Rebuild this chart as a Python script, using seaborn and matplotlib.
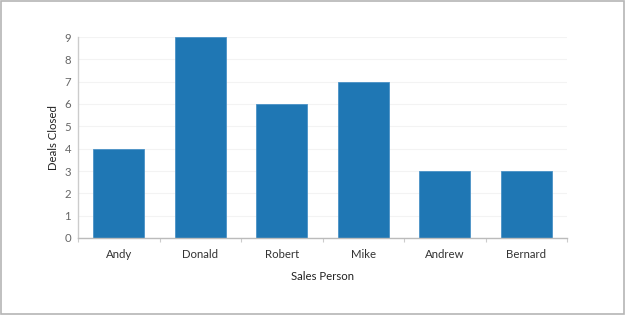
import matplotlib
matplotlib.use("Agg")
import matplotlib.pyplot as plt
import seaborn as sns
import pandas as pd
from matplotlib.patches import Rectangle

people = ["Andy", "Donald", "Robert", "Mike", "Andrew", "Bernard"]
deals = [4, 9, 6, 7, 3, 3]
yticks = [0, 1, 2, 3, 4, 5, 6, 7, 8, 9]

sns.set_theme(style="white")
plt.rcParams["font.family"] = ["Lato", "DejaVu Sans"]

df = pd.DataFrame({"Sales Person": people, "Deals Closed": deals})

fig = plt.figure(figsize=(6.25, 3.15), dpi=100)
ax = fig.add_axes([78/625, 1-238/315, (567-78)/625, (238-37)/315])

sns.barplot(data=df, x="Sales Person", y="Deals Closed", color="#1f77b4",
            saturation=1, width=0.63, ax=ax, edgecolor="#4a92c6", linewidth=0.6)

ax.set_xlim(-0.5, len(people) - 0.5)
ax.set_ylim(0, 9)
ax.set_yticks(yticks)
ax.set_yticklabels([str(t) for t in yticks])
ax.yaxis.grid(True, color="#f3f3f3", linewidth=0.8)
ax.set_axisbelow(True)

for s in ["top", "right"]:
    ax.spines[s].set_visible(False)
ax.spines["left"].set_color("#cccccc")
ax.spines["bottom"].set_color("#bbbbbb")
ax.spines["left"].set_linewidth(1)
ax.spines["bottom"].set_linewidth(1)

ax.tick_params(axis="y", length=0, pad=5, labelsize=8.2, labelcolor="#666666")
ax.tick_params(axis="x", length=0, pad=8, labelsize=8.2, labelcolor="#333333")
# minor ticks at category boundaries
ax.set_xticks([i - 0.5 for i in range(len(people) + 1)], minor=True)
ax.tick_params(axis="x", which="minor", length=3, color="#cccccc", width=0.8, bottom=True)

ax.set_xlabel("Sales Person", fontsize=8.2, color="#222222", labelpad=8)
ax.set_ylabel("Deals Closed", fontsize=8.2, color="#222222", labelpad=4)

fig.patches.append(Rectangle((0.001, 0.002), 0.997, 0.995, transform=fig.transFigure,
                             fill=False, edgecolor="#b5b5b5", linewidth=1.2))

fig.savefig("out.png", dpi=100)
